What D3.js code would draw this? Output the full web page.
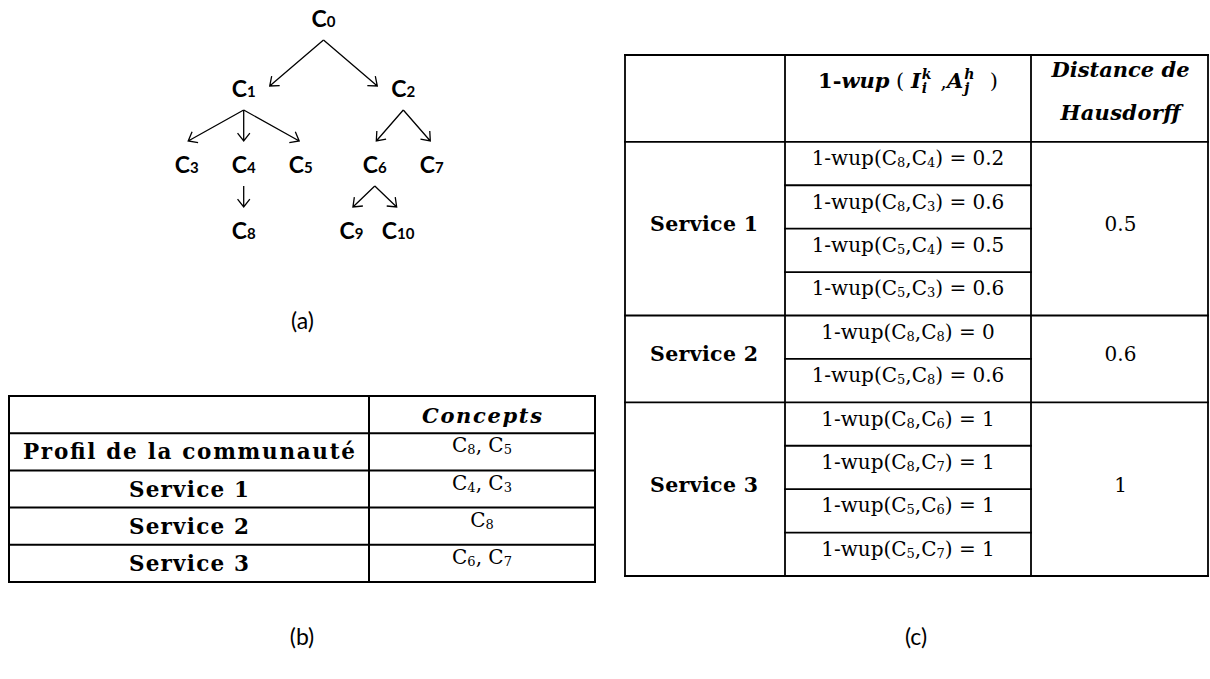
<!DOCTYPE html>
<html><head><meta charset="utf-8">
<script src="https://cdn.jsdelivr.net/npm/d3@7"></script>
<style>html,body{margin:0;padding:0;background:#fff;} svg{display:block;}</style>
</head><body>
<svg id="chart" width="1210" height="679"></svg>
<script>
// ---------------- data ----------------
const treeNodes   = ["0","1","2","3","4","5","6","7","8","9","10"];
const treeParents = [null,"0","0","1","1","1","2","2","4","6","6"];
const panelLabels = ["(a)","(b)","(c)"];

const profileHeader   = ["", "Concepts"];
const profileRows     = ["Profil de la communauté","Service 1","Service 2","Service 3"];
const profileConcepts = [[8,5],[4,3],[8],[6,7]];

const wupHeaderParts = [
  {t:"1-", s:"b"}, {t:"wup", s:"bi"}, {t:" ( ", s:"n"},
  {t:"I", s:"bi", sup:"k", sub:"i"}, {t:" ,", s:"n"},
  {t:"A", s:"bi", sup:"h", sub:"j"}, {t:"  )", s:"n"}
];
const distanceHeader  = ["Distance de","Hausdorff"];
const services        = ["Service 1","Service 2","Service 3"];
const servicePairs    = [[[8,4],[8,3],[5,4],[5,3]], [[8,8],[5,8]], [[8,6],[8,7],[5,6],[5,7]]];
const wupValues       = [[0.2,0.6,0.5,0.6], [0,0.6], [1,1,1,1]];
const hausdorffValues = [0.5, 0.6, 1];

// ---------------- setup ----------------
const svg = d3.select("#chart");
const SERIF = "'DejaVu Serif', serif";
const SANS = "Lato, 'Open Sans', sans-serif";

// ---------------- (a) tree ----------------
const root = d3.stratify().id(d => d.id).parentId(d => d.p)(
  treeNodes.map((id, i) => ({id, p: treeParents[i]})));
d3.tree().nodeSize([1, 1])
  .separation((a, b) => a.parent === b.parent ? (a.depth > 2 ? 0.82 : 1) : 1.3)(root);

const xT = d3.scaleLinear().domain([0, 1]).range([323.5, 380.5]);
const yBase = d3.scaleLinear().domain([0, 1, 2, 3]).range([27, 97, 173, 239]);

const gTree = svg.append("g");
const lbl = gTree.selectAll("text.node").data(root.descendants()).join("text")
  .attr("class", "node")
  .attr("x", d => xT(d.x)).attr("y", d => yBase(d.depth))
  .attr("text-anchor", "middle")
  .attr("font-family", SANS).attr("font-weight", 700).attr("fill", "#000");
lbl.append("tspan").attr("font-size", 23).text("C");
lbl.append("tspan").attr("font-size", 15).text(d => d.id);

const arm = 10, half = 38 * Math.PI / 180;
gTree.selectAll("path.edge").data(root.links()).join("path")
  .attr("class", "edge")
  .attr("fill", "none").attr("stroke", "#000").attr("stroke-width", 1.3)
  .attr("d", l => {
    const sx = xT(l.source.x), sy = yBase(l.source.depth) + 13;
    const tx = xT(l.target.x);
    const dir = Math.sign(sx - tx);
    let ex, ey;
    if (l.target.depth === 1) { ex = tx + dir * 26; ey = yBase(1) - 11; }
    else { ex = tx + dir * 1.5; ey = yBase(l.target.depth) - 32; }
    const a = Math.atan2(sy - ey, sx - ex);
    const p = d3.path();
    p.moveTo(sx, sy); p.lineTo(ex, ey);
    p.moveTo(ex + arm * Math.cos(a + half), ey + arm * Math.sin(a + half));
    p.lineTo(ex, ey);
    p.lineTo(ex + arm * Math.cos(a - half), ey + arm * Math.sin(a - half));
    return p.toString();
  });

// panel labels
const panelPos = [[302.5, 329], [302, 645], [916, 645]];
svg.selectAll("text.panel").data(panelLabels).join("text")
  .attr("class", "panel")
  .attr("x", (d, i) => panelPos[i][0]).attr("y", (d, i) => panelPos[i][1])
  .attr("text-anchor", "middle").attr("font-family", SANS).attr("font-size", 23)
  .attr("fill", "#000").text(d => d);

// helper: write text with subscripts: parts [{t, sub:bool}]
function richText(sel, parts, base, subSize, shift) {
  let cur = 0;
  parts.forEach(p => {
    const want = p.sub ? shift : 0;
    sel.append("tspan").attr("font-size", p.sub ? subSize : base)
      .attr("dy", want - cur).text(p.t);
    cur = want;
  });
}

// ---------------- (b) profile table ----------------
const bx = [9, 369, 595];
const yB = d3.scaleLinear().domain([0, profileRows.length + 1]).range([396, 582]);
const gB = svg.append("g");
const bRows = d3.range(profileRows.length + 2);
gB.selectAll("line.h").data(bRows).join("line")
  .attr("x1", bx[0]).attr("x2", bx[2]).attr("y1", d => yB(d)).attr("y2", d => yB(d))
  .attr("stroke", "#000").attr("stroke-width", 2).attr("stroke-linecap", "square");
gB.selectAll("line.v").data(bx).join("line")
  .attr("x1", d => d).attr("x2", d => d).attr("y1", yB(0)).attr("y2", yB(profileRows.length + 1))
  .attr("stroke", "#000").attr("stroke-width", 2).attr("stroke-linecap", "square");
const bMid = (bx[1] + bx[2]) / 2, bLeft = (bx[0] + bx[1]) / 2;
gB.append("text").attr("x", bMid).attr("y", (yB(0) + yB(1)) / 2 + 8)
  .attr("text-anchor", "middle").attr("font-family", SERIF).attr("font-weight", 700)
  .attr("font-style", "italic").attr("font-size", 21)
  .attr("textLength", 120).attr("lengthAdjust", "spacing").text(profileHeader[1]);
gB.selectAll("text.rl").data(profileRows).join("text")
  .attr("x", bLeft).attr("y", (d, i) => (yB(i + 1) + yB(i + 2)) / 2 + 7.5)
  .attr("text-anchor", "middle").attr("font-family", SERIF).attr("font-weight", 700)
  .attr("font-size", 21.5)
  .attr("textLength", (d, i) => i === 0 ? 332 : 120).attr("lengthAdjust", "spacing")
  .text(d => d);
gB.selectAll("text.cv").data(profileConcepts).join("text")
  .attr("x", bMid).attr("y", (d, i) => (yB(i + 1) + yB(i + 2)) / 2 + 0.5)
  .attr("text-anchor", "middle").attr("font-family", SERIF).attr("font-size", 20)
  .each(function (d) {
    const parts = [];
    d.forEach((c, k) => { parts.push({t: (k ? ", " : "") + "C"}); parts.push({t: String(c), sub: true}); });
    richText(d3.select(this), parts, 20, 13, 2);
  });

// ---------------- (c) Hausdorff table ----------------
const cx = [625, 785, 1031, 1208];
const headerUnits = 2;
const totalUnits = headerUnits + d3.sum(wupValues, d => d.length);
const yC = d3.scaleLinear().domain([0, totalUnits]).range([55, 576]);
const gC = svg.append("g");
const lineAttrs = s => s.attr("stroke", "#000").attr("stroke-width", 1.8).attr("stroke-linecap", "square");

const secStart = [];
let acc = headerUnits;
wupValues.forEach(v => { secStart.push(acc); acc += v.length; });

gC.selectAll("line.hf").data([0, headerUnits, ...secStart.slice(1), totalUnits]).join("line")
  .attr("x1", cx[0]).attr("x2", cx[3]).attr("y1", d => yC(d)).attr("y2", d => yC(d)).call(lineAttrs);
const subLines = [];
wupValues.forEach((v, s) => { for (let k = 1; k < v.length; k++) subLines.push(secStart[s] + k); });
gC.selectAll("line.hs").data(subLines).join("line")
  .attr("x1", cx[1]).attr("x2", cx[2]).attr("y1", d => yC(d)).attr("y2", d => yC(d)).call(lineAttrs);
gC.selectAll("line.v").data(cx).join("line")
  .attr("x1", d => d).attr("x2", d => d).attr("y1", yC(0)).attr("y2", yC(totalUnits)).call(lineAttrs);

const c1 = (cx[0] + cx[1]) / 2, c2 = (cx[1] + cx[2]) / 2, c3 = (cx[2] + cx[3]) / 2;

gC.selectAll("text.dh").data(distanceHeader).join("text")
  .attr("x", c3 + 1).attr("y", (d, i) => i === 0 ? 77 : 120)
  .attr("text-anchor", "middle").attr("font-family", SERIF).attr("font-weight", 700)
  .attr("font-style", "italic").attr("font-size", 21)
  .attr("textLength", (d, i) => i === 0 ? 138 : 120).attr("lengthAdjust", "spacing")
  .text(d => d);

// header col 2: composite formula
const gH = gC.append("g");
let hx = 0;
const hy = 88;
wupHeaderParts.forEach(p => {
  const t = gH.append("text").attr("x", hx).attr("y", hy)
    .attr("font-family", SERIF).attr("font-size", 21)
    .attr("font-weight", p.s === "n" ? 400 : 700)
    .attr("font-style", p.s === "bi" ? "italic" : "normal")
    .style("white-space", "pre").text(p.t);
  hx += t.node().getComputedTextLength();
  if (p.sup) {
    const a = gH.append("text").attr("x", hx + 1).attr("y", hy - 9)
      .attr("font-family", SERIF).attr("font-size", 14).attr("font-weight", 700)
      .attr("font-style", "italic").text(p.sup);
    const b = gH.append("text").attr("x", hx + 1).attr("y", hy + 5)
      .attr("font-family", SERIF).attr("font-size", 14).attr("font-weight", 700)
      .attr("font-style", "italic").text(p.sub);
    hx += Math.max(a.node().getComputedTextLength(), b.node().getComputedTextLength()) + 3;
  }
});
gH.attr("transform", `translate(${c2 - hx / 2},0)`);

gC.selectAll("text.sv").data(services).join("text")
  .attr("x", c1 - 1)
  .attr("y", (d, i) => (yC(secStart[i]) + yC(secStart[i] + wupValues[i].length)) / 2 + 2.5)
  .attr("text-anchor", "middle").attr("font-family", SERIF).attr("font-weight", 700)
  .attr("font-size", 20.5).attr("textLength", 108).attr("lengthAdjust", "spacing")
  .text(d => d);
gC.selectAll("text.hd").data(hausdorffValues).join("text")
  .attr("x", c3 + 1)
  .attr("y", (d, i) => (yC(secStart[i]) + yC(secStart[i] + wupValues[i].length)) / 2 + 2.5)
  .attr("text-anchor", "middle").attr("font-family", SERIF).attr("font-size", 20)
  .text(d => String(d));

const wupRows = [];
wupValues.forEach((vals, s) => vals.forEach((v, k) =>
  wupRows.push({unit: secStart[s] + k, pair: servicePairs[s][k], v})));
gC.selectAll("text.wr").data(wupRows).join("text")
  .attr("x", c2).attr("y", d => yC(d.unit) + 23.3)
  .attr("text-anchor", "middle").attr("font-family", SERIF).attr("font-size", 20)
  .each(function (d) {
    richText(d3.select(this), [
      {t: "1-wup(C"}, {t: String(d.pair[0]), sub: true},
      {t: ",C"}, {t: String(d.pair[1]), sub: true},
      {t: ") = " + String(d.v)}
    ], 20, 13, 2);
  });
</script>
</body></html>
